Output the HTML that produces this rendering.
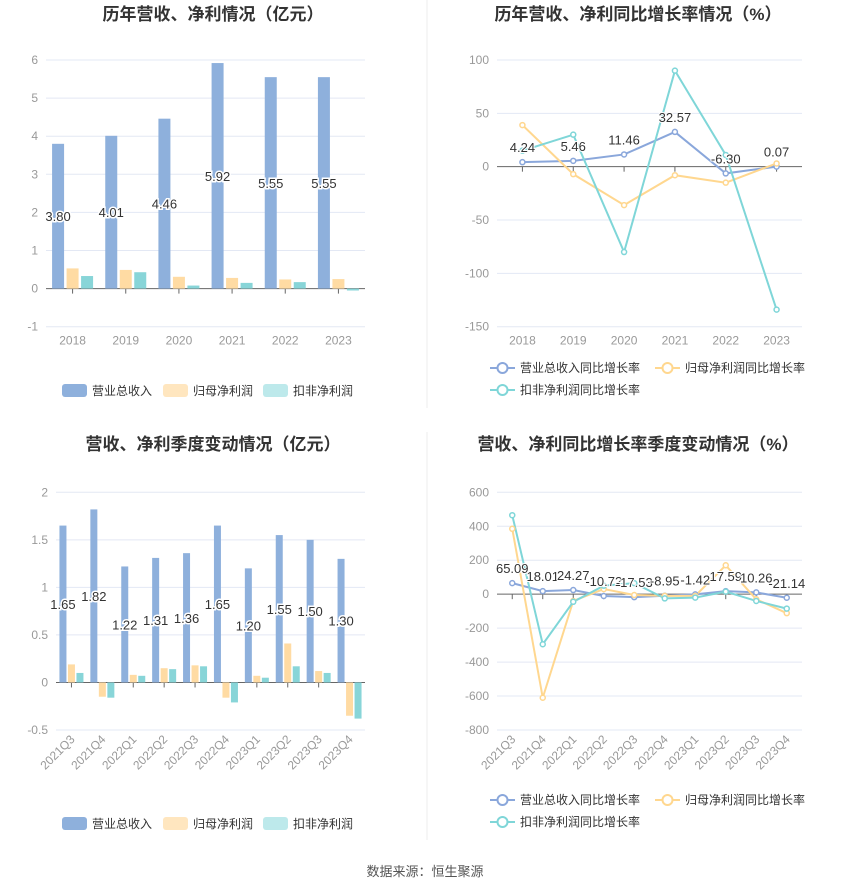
<!DOCTYPE html>
<html><head><meta charset="utf-8">
<style>
body{margin:0;background:#fff;font-family:"Liberation Sans","Noto Sans CJK SC",sans-serif;}
svg text{font-family:"Liberation Sans","Noto Sans CJK SC",sans-serif;}
</style></head>
<body>
<svg id="s" width="850" height="891" xmlns="http://www.w3.org/2000/svg">
<line x1="427" y1="0" x2="427" y2="408" stroke="#eee"/>
<line x1="427" y1="432" x2="427" y2="840" stroke="#eee"/>
<text x="213" y="20" text-anchor="middle" font-size="17" font-weight="bold" fill="#333">历年营收、净利情况（亿元）</text>
<text x="638" y="20" text-anchor="middle" font-size="17" font-weight="bold" fill="#333">历年营收、净利同比增长率情况（%）</text>
<text x="213" y="450" text-anchor="middle" font-size="17" font-weight="bold" fill="#333">营收、净利季度变动情况（亿元）</text>
<text x="638" y="450" text-anchor="middle" font-size="17" font-weight="bold" fill="#333">营收、净利同比增长率季度变动情况（%）</text>
<text x="425" y="876" text-anchor="middle" font-size="13" fill="#555">数据来源：恒生聚源</text>
</svg>
<script>
const yearCats=["2018","2019","2020","2021","2022","2023"];
const yearRevenue=[3.80,4.01,4.46,5.92,5.55,5.55];
const yearNetProfit=[0.53,0.49,0.31,0.28,0.24,0.25];
const yearDeducted=[0.33,0.43,0.08,0.15,0.17,-0.05];
const yearTicks=[-1,0,1,2,3,4,5,6];
const yearRevGrowth=[4.24,5.46,11.46,32.57,-6.30,0.07];
const yearNetGrowth=[39,-7,-36,-8,-15,3];
const yearDedGrowth=[15,30,-80,90,11,-134];
const yearGrowthTicks=[-150,-100,-50,0,50,100];
const qCats=["2021Q3","2021Q4","2022Q1","2022Q2","2022Q3","2022Q4","2023Q1","2023Q2","2023Q3","2023Q4"];
const qRevenue=[1.65,1.82,1.22,1.31,1.36,1.65,1.20,1.55,1.50,1.30];
const qNetProfit=[0.19,-0.15,0.08,0.15,0.18,-0.16,0.07,0.41,0.12,-0.35];
const qDeducted=[0.10,-0.16,0.07,0.14,0.17,-0.21,0.05,0.17,0.10,-0.38];
const qTicks=[-0.5,0,0.5,1,1.5,2];
const qRevGrowth=[65.09,18.01,24.27,-10.72,-17.53,-8.95,-1.42,17.59,10.26,-21.14];
const qNetGrowth=[385,-610,-40,30,-5,-10,-10,170,-30,-112];
const qDedGrowth=[465,-295,-45,50,65,-25,-20,15,-40,-85];
const qGrowthTicks=[-800,-600,-400,-200,0,200,400,600];

const NS="http://www.w3.org/2000/svg";
const svg=document.getElementById('s');
const C={b:"#8eb0dc",o:"#ffdba3",t:"#88d5d8",lb:"#8aa7db",lo:"#ffd78f",lt:"#7fd6d8"};
function mk(tag,a,parent){const e=document.createElementNS(NS,tag);for(const k in a)e.setAttribute(k,a[k]);(parent||svg).appendChild(e);return e;}
function axes(cfg){
  const {x0,x1,yTop,yBot,ticks,cats,rot,fmt}=cfg;
  const tmin=ticks[0],tmax=ticks[ticks.length-1];
  const y=v=>yBot-(v-tmin)/(tmax-tmin)*(yBot-yTop);
  const bw=(x1-x0)/cats.length;
  const x=i=>x0+bw*(i+0.5);
  ticks.forEach(t=>{
    const gl=mk('line',{x1:x0,x2:x1,y1:y(t),y2:y(t),stroke:t===0?"#666":"#e3e8f4"});
    
    
    const tl=mk('text',{x:x0-8,y:y(t)+4,"text-anchor":"end","font-size":12,fill:"#999"});
    tl.textContent=fmt?fmt(t):String(t);
    
    
  });
  cats.forEach((c,i)=>{
    const tk=mk('line',{x1:x(i),x2:x(i),y1:y(0),y2:y(0)+5,stroke:"#666"});
    
    
    let t;
    if(rot){
      const ly=yBot+10;
      t=mk('text',{x:x(i)+4,y:ly,"text-anchor":"end","font-size":12,fill:"#999",transform:`rotate(-45 ${x(i)+4} ${ly})`});
    } else {
      t=mk('text',{x:x(i),y:yBot+18,"text-anchor":"middle","font-size":12,fill:"#999"});
    }
    t.textContent=c;
    
    
  });
  return {x,y,bw};
}
function bars(ax,series,colors,barW,gap,labels){
  const n=series.length,total=n*barW+(n-1)*gap;
  series.forEach((arr,s)=>{
    arr.forEach((v,i)=>{
      const bx=ax.x(i)-total/2+s*(barW+gap);
      const y0=ax.y(0),yv=ax.y(v);
      const r=mk('rect',{x:bx,y:Math.min(y0,yv),width:barW,height:Math.abs(y0-yv),fill:colors[s]});
      
      
    });
  });
  labels.forEach((v,i)=>{
    const bx=ax.x(i)-total/2+barW/2;
    const t=mk('text',{x:bx,y:(ax.y(0)+ax.y(v))/2+5,"text-anchor":"middle","font-size":13,fill:"#333",stroke:"#fff","stroke-width":3,"paint-order":"stroke"});
    t.textContent=v.toFixed(2);
    
    
  });
}
function lines(ax,series,colors,labels){
  series.forEach((arr,s)=>{
    const d=arr.map((v,i)=>(i?'L':'M')+ax.x(i)+' '+ax.y(v)).join(' ');
    const p=mk('path',{d,fill:"none",stroke:colors[s],"stroke-width":2});
    
    
  });
  series.forEach((arr,s)=>{
    arr.forEach((v,i)=>{
      const c=mk('circle',{cx:ax.x(i),cy:ax.y(v),r:2.5,fill:"#fff",stroke:colors[s],"stroke-width":1.5});
      
      
    });
  });
  labels.forEach((v,i)=>{
    const t=mk('text',{x:ax.x(i),y:ax.y(v)-10,"text-anchor":"middle","font-size":13,fill:"#333",stroke:"#fff","stroke-width":2,"paint-order":"stroke"});
    t.textContent=v.toFixed(2);
    
    
  });
}
function barLegend(y){
  const items=[["营业总收入",C.b,62],["归母净利润","#ffe6bf",163],["扣非净利润","#bde9eb",263]];
  items.forEach(it=>{
    const g=mk('g',{});
    
    
    mk('rect',{x:it[2],y:y-6,width:25,height:13,rx:3,fill:it[1]},g);
    const t=mk('text',{x:it[2]+30,y:y+5,"font-size":12,fill:"#333"},g);t.textContent=it[0];
  });
}
function lineLegend(y){
  const items=[["营业总收入同比增长率",C.lb,490,y],["归母净利润同比增长率",C.lo,655,y],["扣非净利润同比增长率",C.lt,490,y+22]];
  items.forEach(it=>{
    const g=mk('g',{});
    
    
    mk('line',{x1:it[2],x2:it[2]+25,y1:it[3],y2:it[3],stroke:it[1],"stroke-width":2},g);
    mk('circle',{cx:it[2]+12.5,cy:it[3],r:5,fill:"#fff",stroke:it[1],"stroke-width":2},g);
    const t=mk('text',{x:it[2]+30,y:it[3]+4,"font-size":12,fill:"#333"},g);t.textContent=it[0];
  });
}
const a1=axes({x0:46,x1:365,yTop:60,yBot:326.7,ticks:yearTicks,cats:yearCats});
bars(a1,[yearRevenue,yearNetProfit,yearDeducted],[C.b,C.o,C.t],12,2.5,yearRevenue);
barLegend(390);
const a2=axes({x0:497,x1:802,yTop:60,yBot:326.7,ticks:yearGrowthTicks,cats:yearCats});
lines(a2,[yearRevGrowth,yearNetGrowth,yearDedGrowth],[C.lb,C.lo,C.lt],yearRevGrowth);
lineLegend(368);
const a3=axes({x0:56,x1:365,yTop:492.3,yBot:730,ticks:qTicks,cats:qCats,rot:true});
bars(a3,[qRevenue,qNetProfit,qDeducted],[C.b,C.o,C.t],7,1.5,qRevenue);
barLegend(823);
const a4=axes({x0:497,x1:802,yTop:492.3,yBot:730,ticks:qGrowthTicks,cats:qCats,rot:true});
lines(a4,[qRevGrowth,qNetGrowth,qDedGrowth],[C.lb,C.lo,C.lt],qRevGrowth);
lineLegend(800);
</script>
</body></html>
